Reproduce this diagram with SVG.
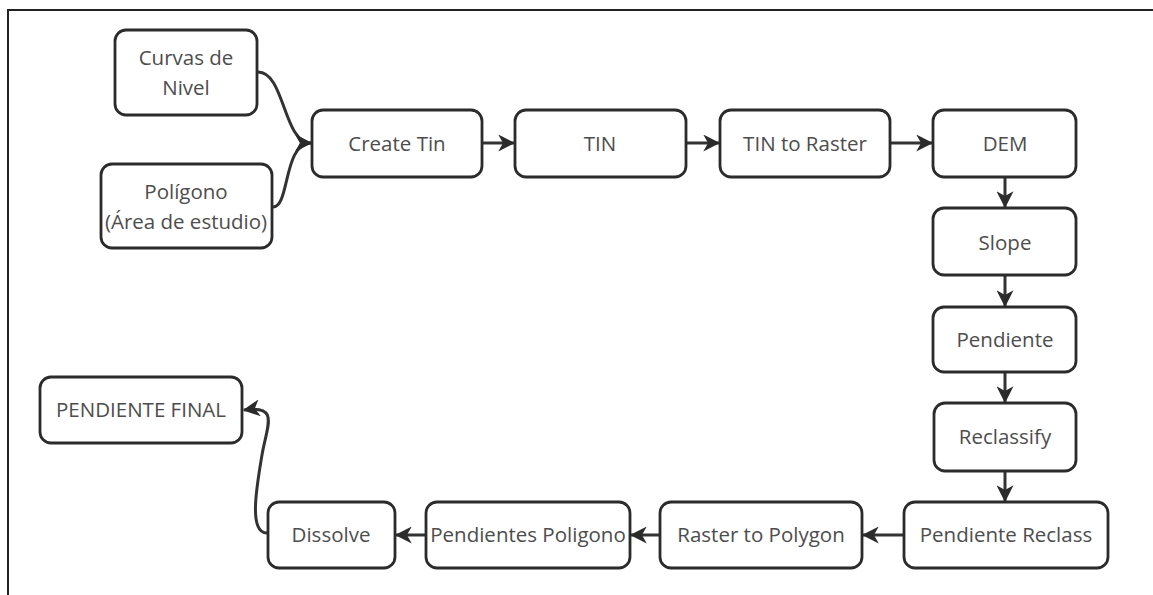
<svg xmlns="http://www.w3.org/2000/svg" width="1153" height="595" viewBox="0 0 1153 595">
<style>
.n rect{fill:#fff;stroke:#2b2b2b;stroke-width:2.8}
.n text{font-family:"Open Sans","Noto Sans",sans-serif;font-size:20.5px;fill:#4d4d4d;text-anchor:middle;dominant-baseline:central}
.c path{fill:none;stroke:#333;stroke-width:3}
</style>
<defs>
<marker id="ah" viewBox="0 0 14 14" refX="13" refY="7" markerWidth="17" markerHeight="17" markerUnits="userSpaceOnUse" orient="auto">
<path d="M0,0 L14,7 L0,14 L4,7 Z" fill="#2b2b2b"/>
</marker>
</defs>
<rect x="8" y="10" width="1160" height="600" fill="#fff" stroke="#222" stroke-width="2"/>
<g class="c">
<path d="M258,72 C285,72 283,143 311,143" marker-end="url(#ah)"/>
<path d="M273,207 C290,207 283,143 311,143" marker-end="url(#ah)"/>
<path d="M483,143 L514,143" marker-end="url(#ah)"/>
<path d="M687,143 L719,143" marker-end="url(#ah)"/>
<path d="M891,143 L932,143" marker-end="url(#ah)"/>
<path d="M1005,178 L1005,207" marker-end="url(#ah)"/>
<path d="M1005,276 L1005,306" marker-end="url(#ah)"/>
<path d="M1005,373 L1005,402" marker-end="url(#ah)"/>
<path d="M1005,472 L1005,501" marker-end="url(#ah)"/>
<path d="M903,535 L863,535" marker-end="url(#ah)"/>
<path d="M659,535 L631,535" marker-end="url(#ah)"/>
<path d="M425,535 L396,535" marker-end="url(#ah)"/>
<path d="M267,533 C248,533 257,485 262,455 C267,425 280,405 244,410" marker-end="url(#ah)"/>
</g>
<g id="curvas" class="n"><rect x="115" y="30" width="142" height="85" rx="11"/><text x="186" y="57">Curvas de</text><text x="186" y="87">Nivel</text></g>
<g id="poligono" class="n"><rect x="101" y="164" width="171" height="84" rx="11"/><text x="186" y="191">Polígono</text><text x="186" y="221">(Área de estudio)</text></g>
<g id="createtin" class="n"><rect x="312" y="110" width="170" height="67" rx="11"/><text x="397" y="143">Create Tin</text></g>
<g id="tin" class="n"><rect x="515" y="110" width="171" height="67" rx="11"/><text x="600" y="143">TIN</text></g>
<g id="tin2raster" class="n"><rect x="720" y="110" width="170" height="67" rx="11"/><text x="805" y="143">TIN to Raster</text></g>
<g id="dem" class="n"><rect x="933" y="110" width="143" height="67" rx="11"/><text x="1005" y="143">DEM</text></g>
<g id="slope" class="n"><rect x="933" y="208" width="143" height="67" rx="11"/><text x="1005" y="242">Slope</text></g>
<g id="pendiente" class="n"><rect x="933" y="307" width="143" height="65" rx="11"/><text x="1005" y="339">Pendiente</text></g>
<g id="reclassify" class="n"><rect x="934" y="403" width="142" height="68" rx="11"/><text x="1005" y="436">Reclassify</text></g>
<g id="pendreclass" class="n"><rect x="904" y="502" width="204" height="66" rx="11"/><text x="1006" y="534">Pendiente Reclass</text></g>
<g id="raster2poly" class="n"><rect x="660" y="502" width="202" height="66" rx="11"/><text x="761" y="534">Raster to Polygon</text></g>
<g id="pendpoly" class="n"><rect x="426" y="502" width="204" height="66" rx="11"/><text x="528" y="534">Pendientes Poligono</text></g>
<g id="dissolve" class="n"><rect x="268" y="502" width="127" height="66" rx="11"/><text x="331" y="534">Dissolve</text></g>
<g id="final" class="n"><rect x="40" y="377" width="202" height="66" rx="11"/><text x="141" y="409">PENDIENTE FINAL</text></g>
</svg>
